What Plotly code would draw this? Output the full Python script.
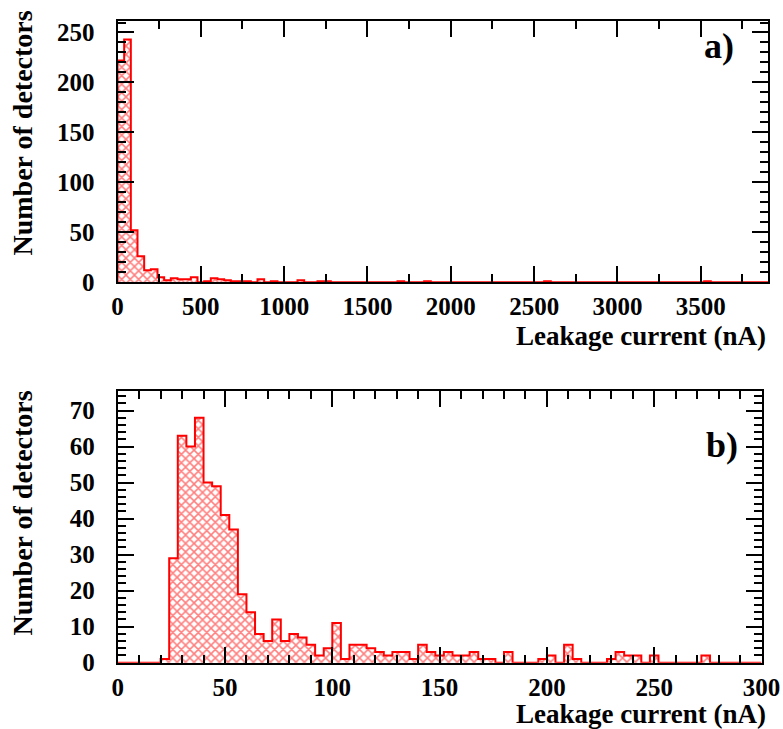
import plotly.graph_objects as go

# ---- panel a: full range, 40 nA bins starting at 0 ----
bin_width_a = 40
counts_a = [
    222, 243, 52, 26, 12, 13, 5, 2, 4, 3,      # 0 - 400
    3, 5, 0, 1, 4, 3, 2, 1, 1, 1,              # 400 - 800
    0, 3, 0, 1, 0, 0, 0, 2, 0, 0,              # 800 - 1200
    1, 1, 0, 0, 0, 0, 0, 0, 0, 0,              # 1200 - 1600
    0, 0, 1, 0, 0, 0, 1, 0, 0, 0,              # 1600 - 2000
    0, 0, 0, 0, 0, 0, 0, 0, 0, 0,              # 2000 - 2400
    0, 0, 0, 0, 1, 0, 0, 0, 0, 0,              # 2400 - 2800
    0, 0, 0, 0, 0, 0, 0, 0, 0, 0,              # 2800 - 3200
    0, 0, 0, 0, 0, 0, 0, 0, 1, 0,              # 3200 - 3600
    0, 0, 0, 0, 0, 0, 0, 0,                    # 3600 - 3920
]

# ---- panel b: zoom 0-300 nA, 4 nA bins ----
bin_width_b = 4
counts_b = [
    0, 0, 0, 0, 0, 1, 29, 63, 60, 68,          # 0 - 40
    50, 49, 41, 37, 19, 14, 8, 6, 12, 6,       # 40 - 80
    8, 7, 5, 2, 4, 11, 1, 5, 5, 4,             # 80 - 120
    3, 2, 3, 3, 1, 5, 3, 2, 3, 2,              # 120 - 160
    2, 3, 1, 1, 0, 3, 0, 0, 0, 1,              # 160 - 200
    2, 0, 5, 1, 0, 0, 0, 1, 3, 2,              # 200 - 240
    2, 0, 2, 0, 0, 0, 0, 0, 2, 0,              # 240 - 280
    0, 0, 0, 0, 0,                             # 280 - 300
]

x_range_a = [0, 3905]
y_range_a = [0, 262]
x_range_b = [0, 300]
y_range_b = [0, 75.5]

x_title = "Leakage current (nA)"
y_title = "Number of detectors"
panel_tags = ["a)", "b)"]

FONT = "Liberation Serif"
HATCH = "#ff0000"


def hist_traces(counts, width, xa, ya):
    centers = [width * (i + 0.5) for i in range(len(counts))]
    bars = go.Bar(
        x=centers, y=counts, width=width, xaxis=xa, yaxis=ya,
        marker=dict(color="white",
                    pattern=dict(shape="x", fgcolor=HATCH, bgcolor="white",
                                 size=6, solidity=0.45),
                    line=dict(width=0)),
        hoverinfo="skip", showlegend=False,
    )
    # outline drawn as a step curve (no internal bin separators)
    edges = [width * i for i in range(len(counts) + 1)]
    sx = [edges[0]] + edges[:-1] + [edges[-1], edges[-1]]
    sy = [0] + list(counts) + [counts[-1], 0]
    step = go.Scatter(
        x=sx, y=sy, xaxis=xa, yaxis=ya, mode="lines",
        line=dict(color=HATCH, width=2, shape="hv"),
        hoverinfo="skip", showlegend=False,
    )
    return [bars, step]


fig = go.Figure()
for t in hist_traces(counts_a, bin_width_a, "x", "y"):
    fig.add_trace(t)
for t in hist_traces(counts_b, bin_width_b, "x2", "y2"):
    fig.add_trace(t)

tickfont = dict(family=FONT, size=25, color="black", weight="bold")


def axis_style(rng, dtick, minor_dtick, domain, anchor, standoff):
    return dict(
        range=rng, domain=domain, anchor=anchor, autorange=False,
        showline=True, linecolor="black", linewidth=2, mirror="allticks",
        ticks="inside", ticklen=16, tickwidth=1.5, tickcolor="black",
        tick0=0, dtick=dtick,
        minor=dict(ticks="inside", ticklen=8, tickwidth=1.5,
                   tickcolor="black", dtick=minor_dtick, tick0=0),
        showgrid=False, zeroline=False, tickfont=tickfont,
        ticklabelstandoff=standoff,
    )


W, H = 783, 729


def px_x(p):
    return p / W


def px_y(p):
    return 1 - p / H


fig.update_layout(
    width=W, height=H,
    margin=dict(l=0, r=0, t=0, b=0, autoexpand=False),
    paper_bgcolor="white", plot_bgcolor="white",
    bargap=0, barmode="overlay",
    xaxis=axis_style(x_range_a, 500, 250, [px_x(117.5), px_x(768.3)], "y", 1),
    yaxis=axis_style(y_range_a, 50, 10, [px_y(282.3), px_y(20.5)], "x", 16),
    xaxis2=axis_style(x_range_b, 50, 10, [px_x(117.7), px_x(761.5)], "y2", 1),
    yaxis2=axis_style(y_range_b, 10, 2, [px_y(662.7), px_y(390.7)], "x2", 16),
)

title_font = dict(family=FONT, size=27, color="black", weight="bold")
ann = []
# x titles, right-aligned at the end of each axis
ann.append(dict(text=x_title, x=px_x(768), y=px_y(336), xref="paper", yref="paper",
                xanchor="right", yanchor="middle", showarrow=False, font=title_font))
ann.append(dict(text=x_title, x=px_x(768), y=px_y(714), xref="paper", yref="paper",
                xanchor="right", yanchor="middle", showarrow=False, font=title_font))
# y titles, aligned to the top of each axis
ann.append(dict(text=y_title, x=px_x(22), y=px_y(9), xref="paper", yref="paper",
                xanchor="center", yanchor="top", textangle=-90, showarrow=False,
                font=dict(family=FONT, size=28, color="black", weight="bold")))
ann.append(dict(text=y_title, x=px_x(22), y=px_y(389), xref="paper", yref="paper",
                xanchor="center", yanchor="top", textangle=-90, showarrow=False,
                font=dict(family=FONT, size=28, color="black", weight="bold")))
# panel tags
tag_font = dict(family=FONT, size=36, color="black", weight="bold")
ann.append(dict(text=panel_tags[0], x=px_x(736), y=px_y(46), xref="paper", yref="paper",
                xanchor="right", yanchor="middle", showarrow=False, font=tag_font))
ann.append(dict(text=panel_tags[1], x=px_x(740), y=px_y(445), xref="paper", yref="paper",
                xanchor="right", yanchor="middle", showarrow=False, font=tag_font))
fig.update_layout(annotations=ann)

# page without body margin so the figure sits flush in the window
fig.write_html(
    "out.html",
    post_script="document.body.style.margin='0';document.body.style.overflow='hidden';",
)
